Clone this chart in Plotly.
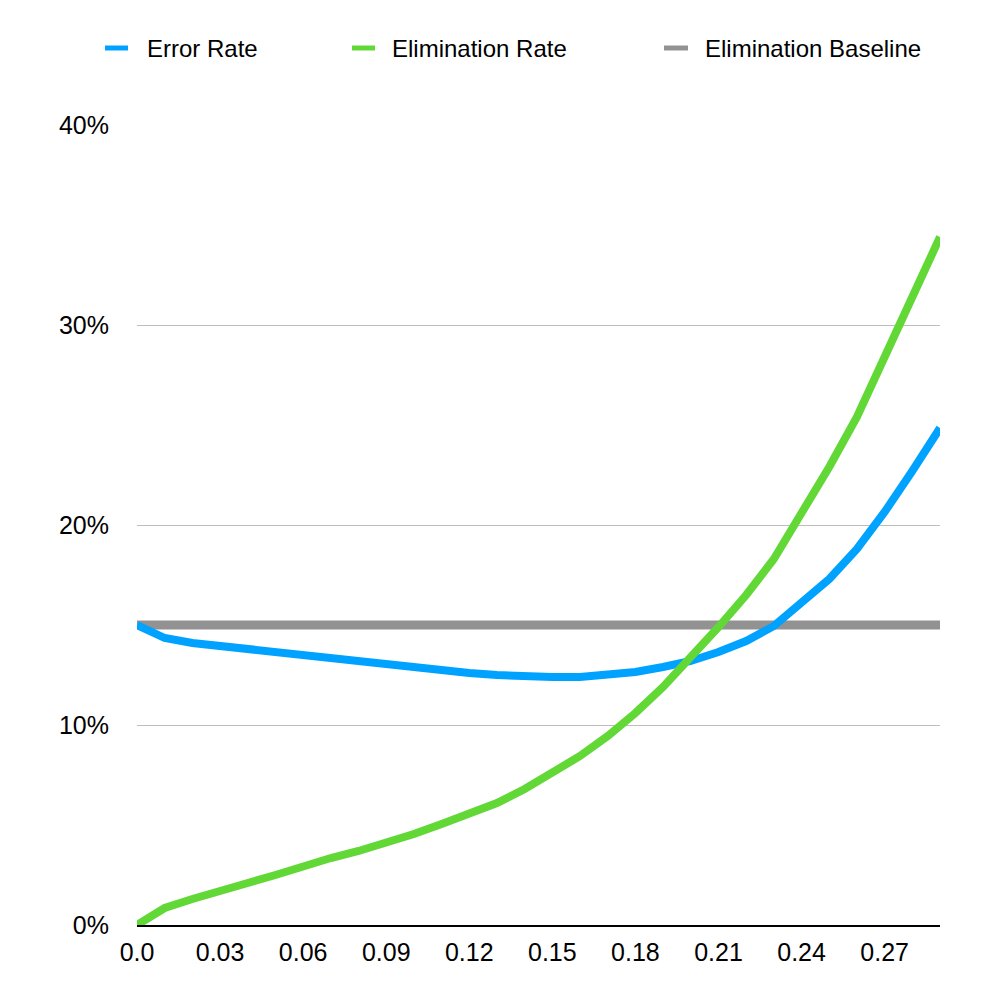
import plotly.graph_objects as go

# ---- data ----
x_values = [0.00, 0.01, 0.02, 0.03, 0.04, 0.05, 0.06, 0.07, 0.08, 0.09,
            0.10, 0.11, 0.12, 0.13, 0.14, 0.15, 0.16, 0.17, 0.18, 0.19,
            0.20, 0.21, 0.22, 0.23, 0.24, 0.25, 0.26, 0.27, 0.28, 0.29]
error_rate = [15.0, 14.35, 14.1, 13.95, 13.8, 13.55, 13.45, 13.3, 13.15, 13.0,
              12.85, 12.7, 12.6, 12.5, 12.4, 12.4, 12.4, 12.5, 12.65, 12.9,
              13.2, 13.65, 14.2, 14.95, 16.1, 17.3, 18.8, 20.65, 22.7, 24.85]
elimination_rate = [0.0, 0.85, 1.3, 1.75, 2.1, 2.5, 2.95, 3.35, 3.7, 4.1,
                    4.55, 5.05, 5.55, 6.1, 6.8, 7.6, 8.45, 9.45, 10.6, 11.9,
                    13.35, 14.9, 16.5, 18.3, 20.6, 22.9, 25.4, 28.3, 31.4, 34.4]
baseline_value = 15.0
elimination_baseline = [baseline_value] * len(x_values)

x_tickvals = [0.0, 0.03, 0.06, 0.09, 0.12, 0.15, 0.18, 0.21, 0.24, 0.27]
x_ticktext = ["0.0", "0.03", "0.06", "0.09", "0.12", "0.15", "0.18", "0.21", "0.24", "0.27"]
y_tickvals = [0, 10, 20, 30, 40]
y_ticktext = ["0%", "10%", "20%", "30%", "40%"]

series_names = ["Error Rate", "Elimination Rate", "Elimination Baseline"]
series_colors = ["#00A2FF", "#61D836", "#929292"]

FONT = "Liberation Sans, Helvetica, Arial, sans-serif"

fig = go.Figure()
fig.add_trace(go.Scatter(x=x_values, y=elimination_baseline, mode="lines",
                         line=dict(color=series_colors[2], width=9),
                         name=series_names[2], showlegend=False, cliponaxis=False))
fig.add_trace(go.Scatter(x=x_values, y=error_rate, mode="lines",
                         line=dict(color=series_colors[0], width=8),
                         name=series_names[0], showlegend=False, cliponaxis=False))
fig.add_trace(go.Scatter(x=x_values, y=elimination_rate, mode="lines",
                         line=dict(color=series_colors[1], width=8),
                         name=series_names[1], showlegend=False, cliponaxis=False))

# ---- manual legend (layout positions in pixels) ----
L, R, T, B = 137, 60, 125, 75
PW, PH = 1000 - L - R, 1000 - T - B
legend_swatch_px = [(105, 128), (352, 375), (664, 688)]
legend_text_px = [145, 390, 703]
legend_y_px = 48

def px_x(p):
    return (p - L) / PW

def px_y(p):
    return (1000 - B - p) / PH

shapes = []
annotations = []
for name, color, (s0, s1), tx in zip(series_names, series_colors, legend_swatch_px, legend_text_px):
    shapes.append(dict(type="line", xref="paper", yref="paper",
                       x0=px_x(s0), x1=px_x(s1), y0=px_y(legend_y_px), y1=px_y(legend_y_px),
                       line=dict(color=color, width=5)))
    annotations.append(dict(xref="paper", yref="paper", x=px_x(tx), y=px_y(legend_y_px),
                            xanchor="left", yanchor="middle", text=name, showarrow=False,
                            font=dict(family=FONT, size=24, color="#000000")))

fig.update_layout(
    width=1000, height=1000,
    margin=dict(l=L, r=R, t=T, b=B),
    paper_bgcolor="white", plot_bgcolor="white",
    showlegend=False,
    font=dict(family=FONT, size=24, color="#000000"),
    shapes=shapes, annotations=annotations,
    xaxis=dict(range=[0, 0.29], tickmode="array", tickvals=x_tickvals, ticktext=x_ticktext,
               showgrid=False, zeroline=False, showline=True, linecolor="#000000",
               linewidth=2, ticks="", ticklabelstandoff=4,
               tickfont=dict(size=25, family=FONT)),
    yaxis=dict(range=[0, 40], tickmode="array", tickvals=y_tickvals, ticktext=y_ticktext,
               showgrid=True, gridcolor="#BDBDBD", gridwidth=1, zeroline=False,
               showline=False, ticks="", ticklabelstandoff=27,
               tickfont=dict(size=25, family=FONT)),
)

fig.write_html("out.html")
